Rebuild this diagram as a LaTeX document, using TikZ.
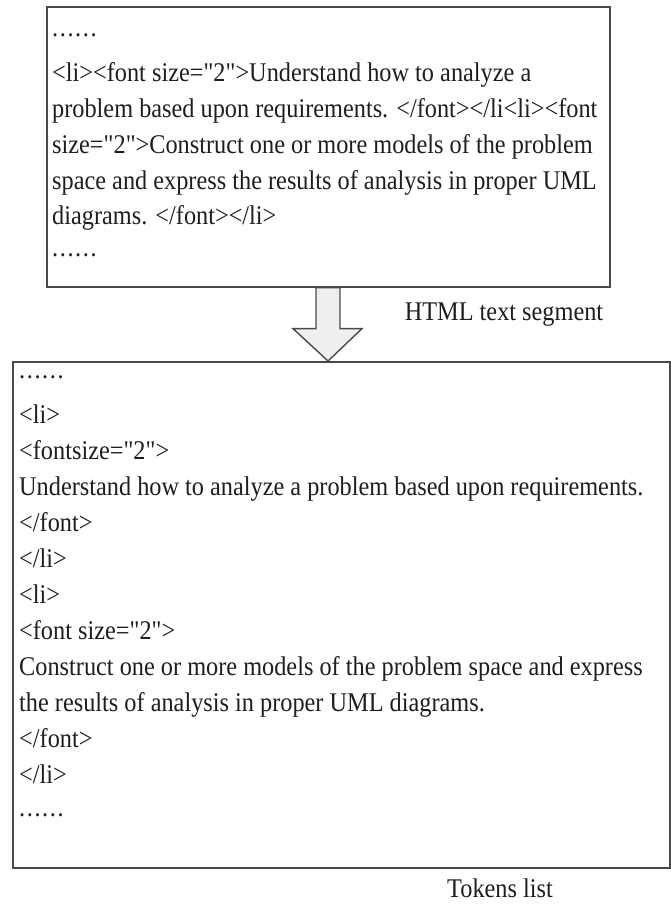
\documentclass[tikz,border=0pt]{standalone}
\usepackage{fontspec}
\setmainfont[FakeStretch=0.9,Ligatures=TeXOff]{Liberation Serif}
\definecolor{edge}{HTML}{4A4A4A}
\definecolor{ink}{HTML}{1E1E1E}
\definecolor{arrowfill}{HTML}{EFEFEF}
\newcommand{\sixdots}{.\kern1.6pt.\kern1.6pt.\kern1.6pt.\kern1.6pt.\kern1.6pt.}
\begin{document}
\begin{tikzpicture}[x=1pt,y=-1pt,
  boxframe/.style={draw=edge,line width=1.6pt,fill=white},
  txt/.style={anchor=base west,inner sep=0pt,text=ink,font=\fontsize{27}{36}\selectfont},
  lbl/.style={anchor=base,inner sep=0pt,text=ink,font=\fontsize{27}{36}\selectfont},
  bigarrow/.style={draw=edge,line width=1.4pt,fill=arrowfill,line join=miter}]
\useasboundingbox (0,0) rectangle (670,905);
\fill[white] (0,0) rectangle (670,905);
% boxes
\node[boxframe,minimum width=563pt,minimum height=280pt,anchor=north west,inner sep=0pt] (top) at (46,6) {};
\node[boxframe,minimum width=657pt,minimum height=506pt,anchor=north west,inner sep=0pt] (bot) at (12,361) {};
% top text
\node[txt] (t1) at (52,36) {\sixdots};
\node[txt] (t2) at (52,81) {<li><font size="2">Understand how to analyze a};
\node[txt] (t3) at (52,117) {problem based upon requirements. </font></li<li><font};
\node[txt] (t4) at (52,153) {size="2">Construct one or more models of the problem};
\node[txt] (t5) at (52,189) {space and express the results of analysis in proper UML};
\node[txt] (t6) at (52,224) {diagrams. </font></li>};
\node[txt] (t7) at (52,256) {\sixdots};
% arrow between boxes
\coordinate (as) at (top.south -| 328,0);
\coordinate (ae) at (bot.north -| 328,0);
\draw[bigarrow] ([xshift=-12pt]as) -- ([xshift=-12pt,yshift=-41pt]as) -- ([xshift=-35pt,yshift=-41pt]as)
  -- (ae) -- ([xshift=34pt,yshift=-41pt]as) -- ([xshift=12pt,yshift=-41pt]as) -- ([xshift=12pt]as) -- cycle;
\node[lbl] (l1) at (504,320) {HTML text segment};
% bottom text
\node[txt] (b1) at (19,378) {\sixdots};
\node[txt] (b2) at (19,423) {<li>};
\node[txt] (b3) at (19,459) {<fontsize="2">};
\node[txt] (b4) at (19,495) {Understand how to analyze a problem based upon requirements.};
\node[txt] (b5) at (19,531) {</font>};
\node[txt] (b6) at (19,567) {</li>};
\node[txt] (b7) at (19,603) {<li>};
\node[txt] (b8) at (19,639) {<font size="2">};
\node[txt] (b9) at (19,675) {Construct one or more models of the problem space and express};
\node[txt] (b10) at (19,711) {the results of analysis in proper UML diagrams.};
\node[txt] (b11) at (19,747) {</font>};
\node[txt] (b12) at (19,783) {</li>};
\node[txt] (b13) at (19,816) {\sixdots};
\node[lbl] (l2) at (500,897) {Tokens list};
\end{tikzpicture}
\end{document}
